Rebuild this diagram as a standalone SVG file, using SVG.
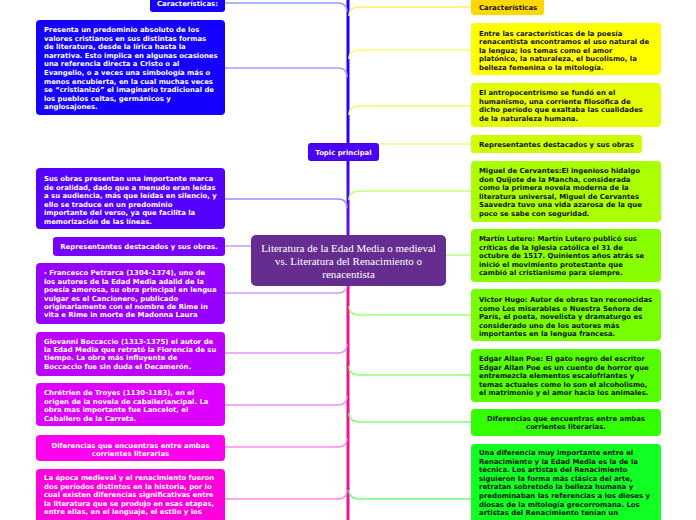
<svg xmlns="http://www.w3.org/2000/svg" width="696" height="520" viewBox="0 0 696 520">
<defs>
<linearGradient id="spineTop" x1="0" y1="0" x2="0" y2="235" gradientUnits="userSpaceOnUse">
<stop offset="0" stop-color="#1a00ff"/><stop offset="0.6" stop-color="#2a00ff"/><stop offset="1" stop-color="#6a10e0"/>
</linearGradient>
<style>
.t{font-family:"DejaVu Sans",Verdana,sans-serif;font-weight:bold;font-size:6.9px;fill:#ffffff}
.d{font-family:"DejaVu Sans",Verdana,sans-serif;font-weight:bold;font-size:6.9px;fill:#111111}
.c{text-anchor:middle}
.ctr{font-family:"Liberation Serif","Times New Roman",serif;font-size:11px;fill:#ffffff;text-anchor:middle}
.cn{fill:none;stroke-width:1.5}
</style>
</defs>
<rect width="696" height="520" fill="#ffffff"/>

<g id="connectors">
<line x1="348" y1="0" x2="348" y2="236" stroke="url(#spineTop)" stroke-width="3"/>
<line x1="348" y1="285" x2="348" y2="520" stroke="#ee1190" stroke-width="3"/>
<path class="cn" stroke="#9a9aff" d="M225,3 H338 C344,3 347,6 347,12"/>
<path class="cn" stroke="#a0a0ff" d="M225,68 H338 C344,68 347,71 347,77"/>
<path class="cn" stroke="#a888ff" d="M225,199 H338 C344,199 347,202 347,208"/>
<path class="cn" stroke="#c898ff" d="M225,246 H252"/>
<path class="cn" stroke="#d49aff" d="M225,293 H338 C344,293 347,290 347,284"/>
<path class="cn" stroke="#e296ff" d="M225,353 H338 C344,353 347,350 347,344"/>
<path class="cn" stroke="#ec90ff" d="M225,405 H338 C344,405 347,402 347,396"/>
<path class="cn" stroke="#ff88f2" d="M225,447 H338 C344,447 347,444 347,438"/>
<path class="cn" stroke="#ff88e6" d="M225,499 H338 C344,499 347,496 347,490"/>
<path class="cn" stroke="#f8f070" d="M349,16 C349,10 353,7 360,7 H471"/>
<path class="cn" stroke="#ffff70" d="M349,59 C349,53 353,50 360,50 H471"/>
<path class="cn" stroke="#eeff66" d="M349,115 C349,109 353,106 360,106 H471"/>
<path class="cn" stroke="#ddff88" d="M379,144 H471"/>
<path class="cn" stroke="#c4ff70" d="M349,200 C349,194 353,191 360,191 H471"/>
<path class="cn" stroke="#b4ff88" d="M446,255 H471"/>
<path class="cn" stroke="#a4ff77" d="M349,306 C349,312 353,315 360,315 H471"/>
<path class="cn" stroke="#90ff77" d="M349,366 C349,372 353,375 360,375 H471"/>
<path class="cn" stroke="#80ff80" d="M349,413 C349,419 353,422 360,422 H471"/>
<path class="cn" stroke="#70ff88" d="M349,490 C349,496 353,499 360,499 H471"/>
</g>

<g id="center">
<rect x="251" y="235" width="195" height="51" rx="5" fill="#662d91"/>
<text class="ctr"><tspan x="348.5" y="251.5">Literatura de la Edad Media o medieval</tspan><tspan x="348.5" y="265">vs. Literatura del Renacimiento o</tspan><tspan x="348.5" y="278">renacentista</tspan></text>
</g>

<g id="topic-principal">
<rect x="308" y="143" width="71" height="18" rx="3" fill="#4a00f5"/>
<text class="t c" x="343.5" y="154.5">Topic principal</text>
</g>

<g id="caracteristicas-left">
<rect x="150" y="-6" width="75" height="18" rx="3" fill="#1500ff"/>
<text class="t c" x="187.5" y="6">Características:</text>
</g>

<g id="node-cristianos">
<rect x="36" y="20" width="189" height="95" rx="4" fill="#1500ff"/>
<text class="t"><tspan x="44" y="32">Presenta un predominio absoluto de los</tspan><tspan x="44" dy="8.6">valores cristianos en sus distintas formas</tspan><tspan x="44" dy="8.6">de literatura, desde la lírica hasta la</tspan><tspan x="44" dy="8.6">narrativa. Esto implica en algunas ocasiones</tspan><tspan x="44" dy="8.6">una referencia directa a Cristo o al</tspan><tspan x="44" dy="8.6">Evangelio, o a veces una simbología más o</tspan><tspan x="44" dy="8.6">menos encubierta, en la cual muchas veces</tspan><tspan x="44" dy="8.6">se “cristianizó” el imaginario tradicional de</tspan><tspan x="44" dy="8.6">los pueblos celtas, germánicos y</tspan><tspan x="44" dy="8.6">anglosajones.</tspan></text>
</g>

<g id="node-oralidad">
<rect x="36" y="168" width="189" height="61" rx="4" fill="#5500ff"/>
<text class="t"><tspan x="44" y="181">Sus obras presentan una importante marca</tspan><tspan x="44" dy="8.5">de oralidad, dado que a menudo eran leídas</tspan><tspan x="44" dy="8.5">a su audiencia, más que leídas en silencio, y</tspan><tspan x="44" dy="8.5">ello se traduce en un predominio</tspan><tspan x="44" dy="8.5">importante del verso, ya que facilita la</tspan><tspan x="44" dy="8.5">memorización de las líneas.</tspan></text>
</g>

<g id="representantes-left">
<rect x="53" y="237" width="172" height="19" rx="3" fill="#7800ff"/>
<text class="t c" x="139" y="249">Representantes destacados y sus obras.</text>
</g>

<g id="node-petrarca">
<rect x="36" y="263" width="189" height="61" rx="4" fill="#9600ff"/>
<text class="t"><tspan x="44" y="275.3">- Francesco Petrarca (1304-1374), uno de</tspan><tspan x="44" dy="8.4">los autores de la Edad Media adalid de la</tspan><tspan x="44" dy="8.4">poesía amorosa, su obra principal en lengua</tspan><tspan x="44" dy="8.4">vulgar es el Cancionero, publicado</tspan><tspan x="44" dy="8.4">originariamente con el nombre de Rime in</tspan><tspan x="44" dy="8.4">vita e Rime in morte de Madonna Laura</tspan></text>
</g>

<g id="node-boccaccio">
<rect x="36" y="332" width="189" height="44" rx="4" fill="#bc00ff"/>
<text class="t"><tspan x="44" y="343.6">Giovanni Boccaccio (1313-1375) el autor de</tspan><tspan x="44" dy="8.4">la Edad Media que retrató la Florencia de su</tspan><tspan x="44" dy="8.4">tiempo. La obra más influyente de</tspan><tspan x="44" dy="8.4">Boccaccio fue sin duda el Decamerón.</tspan></text>
</g>

<g id="node-chretien">
<rect x="36" y="383" width="189" height="43" rx="4" fill="#de00ff"/>
<text class="t"><tspan x="44" y="395.3">Chrétrien de Troyes (1130-1183), en el</tspan><tspan x="44" dy="8.4">origen de la novela de caballeríancipal. La</tspan><tspan x="44" dy="8.4">obra mas importante fue Lancelot, el</tspan><tspan x="44" dy="8.4">Caballero de la Carreta.</tspan></text>
</g>

<g id="diferencias-left">
<rect x="36" y="435" width="189" height="26" rx="4" fill="#ff00ee"/>
<text class="t c"><tspan x="130.5" y="447.5">Diferencias que encuentras entre ambas</tspan><tspan x="130.5" dy="8.4">corrientes literarias</tspan></text>
</g>

<g id="node-epoca">
<rect x="36" y="469" width="189" height="70" rx="4" fill="#ff00dc"/>
<text class="t"><tspan x="44" y="480">La época medieval y el renacimiento fueron</tspan><tspan x="44" dy="8.5">dos períodos distintos en la historia, por lo</tspan><tspan x="44" dy="8.5">cual existen diferencias significativas entre</tspan><tspan x="44" dy="8.5">la literatura que se produjo en esas etapas,</tspan><tspan x="44" dy="8.5">entre ellas, en el lenguaje, el estilo y los</tspan></text>
</g>

<g id="caracteristicas-right">
<rect x="471" y="-4" width="73" height="19" rx="3" fill="#ffd700"/>
<text class="d" x="479" y="9.5">Características</text>
</g>

<g id="node-poesia">
<rect x="471" y="23" width="190" height="52" rx="4" fill="#ffff00"/>
<text class="d"><tspan x="479" y="35.6">Entre las características de la poesía</tspan><tspan x="479" dy="8.6">renacentista encontramos el uso natural de</tspan><tspan x="479" dy="8.6">la lengua; los temas como el amor</tspan><tspan x="479" dy="8.6">platónico, la naturaleza, el bucolismo, la</tspan><tspan x="479" dy="8.6">belleza femenina o la mitología.</tspan></text>
</g>

<g id="node-antropocentrismo">
<rect x="471" y="83" width="190" height="44" rx="4" fill="#e5ff00"/>
<text class="d"><tspan x="479" y="95">El antropocentrismo se fundó en el</tspan><tspan x="479" dy="8.6">humanismo, una corriente filosófica de</tspan><tspan x="479" dy="8.6">dicho período que exaltaba las cualidades</tspan><tspan x="479" dy="8.6">de la naturaleza humana.</tspan></text>
</g>

<g id="representantes-right">
<rect x="471" y="135" width="171" height="18" rx="3" fill="#ccff00"/>
<text class="d" x="479" y="146.6">Representantes destacados y sus obras</text>
</g>

<g id="node-cervantes">
<rect x="471" y="161" width="190" height="61" rx="4" fill="#aaff00"/>
<text class="d"><tspan x="479" y="173">Miguel de Cervantes:El ingenioso hidalgo</tspan><tspan x="479" dy="8.5">don Quijote de la Mancha, considerada</tspan><tspan x="479" dy="8.5">como la primera novela moderna de la</tspan><tspan x="479" dy="8.5">literatura universal, Miguel de Cervantes</tspan><tspan x="479" dy="8.5">Saavedra tuvo una vida azarosa de la que</tspan><tspan x="479" dy="8.5">poco se sabe con seguridad.</tspan></text>
</g>

<g id="node-lutero">
<rect x="471" y="229" width="190" height="53" rx="4" fill="#88ff00"/>
<text class="d"><tspan x="479" y="241">Martín Lutero: Martín Lutero publicó sus</tspan><tspan x="479" dy="8.5">críticas de la Iglesia católica el 31 de</tspan><tspan x="479" dy="8.5">octubre de 1517. Quinientos años atrás se</tspan><tspan x="479" dy="8.5">inició el movimiento protestante que</tspan><tspan x="479" dy="8.5">cambió al cristianismo para siempre.</tspan></text>
</g>

<g id="node-hugo">
<rect x="471" y="289" width="190" height="52" rx="4" fill="#77ff00"/>
<text class="d"><tspan x="479" y="302">Victor Hugo: Autor de obras tan reconocidas</tspan><tspan x="479" dy="8.5">como Los miserables o Nuestra Señora de</tspan><tspan x="479" dy="8.5">París, el poeta, novelista y dramaturgo es</tspan><tspan x="479" dy="8.5">considerado uno de los autores más</tspan><tspan x="479" dy="8.5">importantes en la lengua francesa.</tspan></text>
</g>

<g id="node-poe">
<rect x="471" y="349" width="190" height="53" rx="4" fill="#55ff00"/>
<text class="d"><tspan x="479" y="361">Edgar Allan Poe: El gato negro del escritor</tspan><tspan x="479" dy="8.5">Edgar Allan Poe es un cuento de horror que</tspan><tspan x="479" dy="8.5">entremezcla elementos escalofriantes y</tspan><tspan x="479" dy="8.5">temas actuales como lo son el alcoholismo,</tspan><tspan x="479" dy="8.5">el matrimonio y el amor hacia los animales.</tspan></text>
</g>

<g id="diferencias-right">
<rect x="471" y="409" width="190" height="27" rx="4" fill="#33ff00"/>
<text class="d c"><tspan x="566" y="420.6">Diferencias que encuentras entre ambas</tspan><tspan x="566" dy="8.6">corrientes literarias.</tspan></text>
</g>

<g id="node-tecnica">
<rect x="471" y="444" width="190" height="90" rx="4" fill="#11ff22"/>
<text class="d"><tspan x="479" y="455">Una diferencia muy importante entre el</tspan><tspan x="479" dy="8.6">Renacimiento y la Edad Media es la de la</tspan><tspan x="479" dy="8.6">técnica. Los artistas del Renacimiento</tspan><tspan x="479" dy="8.6">siguieron la forma más clásica del arte,</tspan><tspan x="479" dy="8.6">retratan sobretodo la belleza humana y</tspan><tspan x="479" dy="8.6">predominaban las referencias a los dioses y</tspan><tspan x="479" dy="8.6">diosas de la mitología grecorromana. Los</tspan><tspan x="479" dy="8.6">artistas del Renacimiento tenían un</tspan></text>
</g>
</svg>
